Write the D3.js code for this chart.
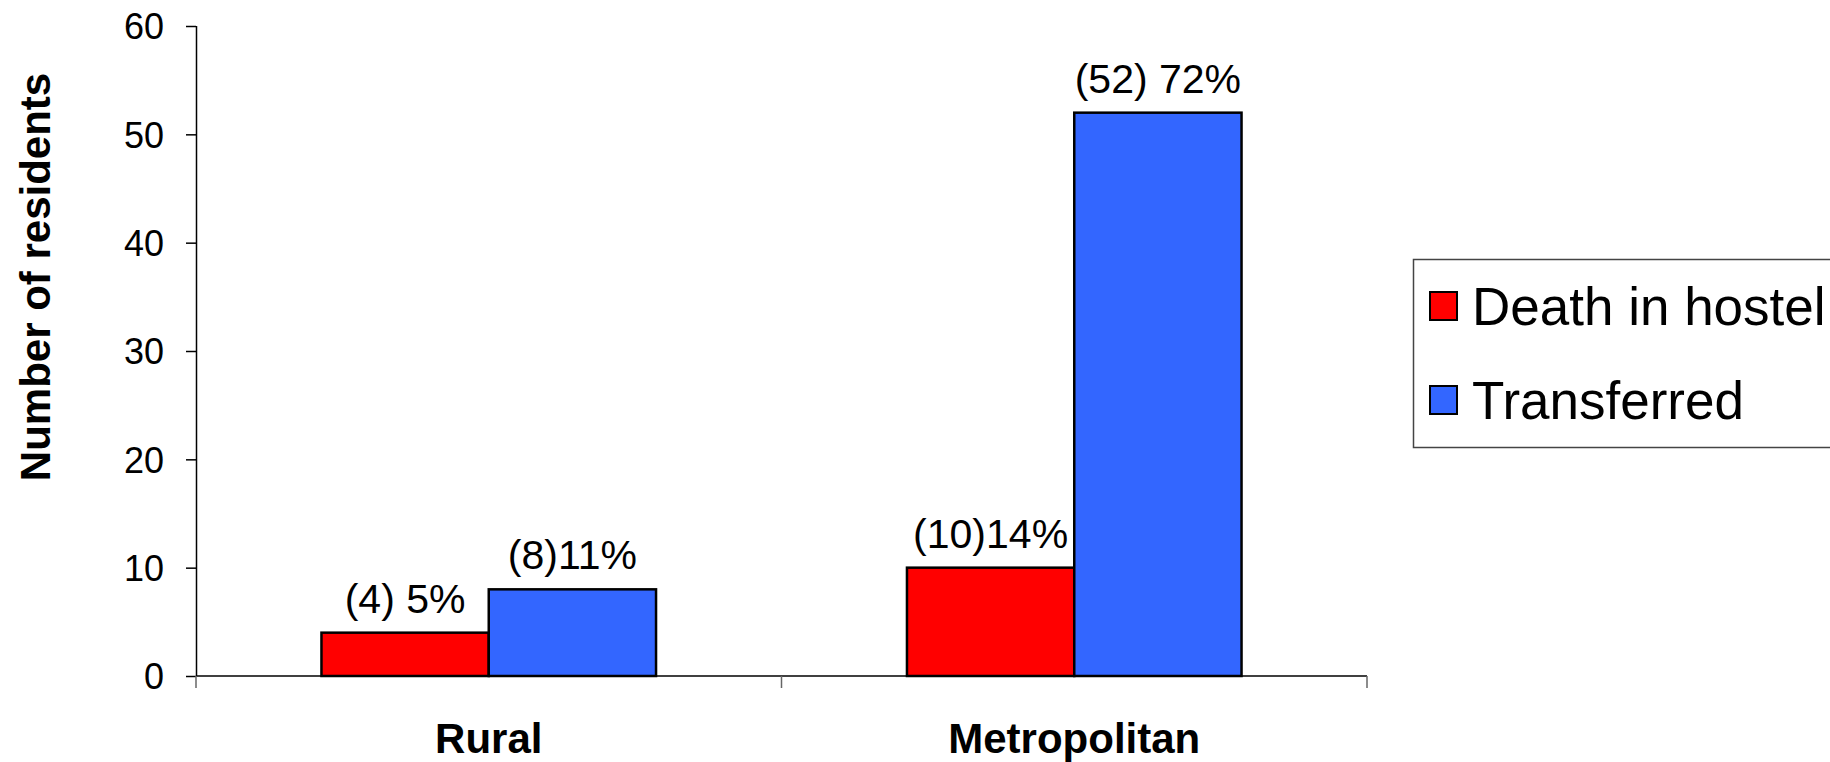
<!DOCTYPE html>
<html>
<head>
<meta charset="utf-8">
<script src="https://cdn.jsdelivr.net/npm/d3@7"></script>
<style>
  html, body { margin: 0; padding: 0; background: #fff; }
  svg { display: block; font-family: "Liberation Sans", Arial, sans-serif; }
</style>
</head>
<body>
<svg id="chart" width="1830" height="762"></svg>
<script>
// Residents by location: deaths in hostel vs. transfers
const categories = ["Rural", "Metropolitan"];
const seriesNames = ["Death in hostel", "Transferred"];
const deathInHostel = [4, 10];
const transferred = [8, 52];
const deathLabels = ["(4) 5%", "(10)14%"];
const transferredLabels = ["(8)11%", "(52) 72%"];
const yTicks = [0, 10, 20, 30, 40, 50, 60];
const seriesColors = ["#FF0000", "#3366FF"];

const seriesValues = [deathInHostel, transferred];
const seriesLabels = [deathLabels, transferredLabels];

const rows = categories.map((c, i) => ({
  category: c,
  bars: seriesNames.map((s, j) => ({
    series: s,
    value: seriesValues[j][i],
    label: seriesLabels[j][i],
    color: seriesColors[j]
  }))
}));

const svg = d3.select("#chart");
const plot = { left: 196, right: 1367, top: 26, bottom: 676 };

const x = d3.scaleBand()
  .domain(categories)
  .range([plot.left, plot.right])
  .padding(0);

const x1 = d3.scaleBand()
  .domain(seriesNames)
  .range([0, x.bandwidth()])
  .paddingInner(0)
  .paddingOuter(0.75);

const y = d3.scaleLinear()
  .domain([0, 60])
  .range([plot.bottom, plot.top]);

// Y axis
const yAxis = svg.append("g")
  .attr("transform", `translate(${plot.left},0)`)
  .call(d3.axisLeft(y).tickValues(yTicks).tickSize(10).tickPadding(22));
yAxis.select(".domain").attr("stroke", "#000").attr("stroke-width", 1.5)
  .attr("d", `M0.5,${plot.top}V${plot.bottom}`);
yAxis.selectAll(".tick line").attr("stroke", "#000").attr("stroke-width", 1.5);
yAxis.selectAll(".tick text")
  .attr("font-size", 36)
  .attr("fill", "#000")
  .attr("font-family", "Liberation Sans, Arial, sans-serif")
  .attr("dy", "0.36em");

// Bars
const groups = svg.append("g").selectAll("g")
  .data(rows)
  .join("g")
  .attr("transform", d => `translate(${x(d.category)},0)`);

groups.selectAll("rect")
  .data(d => d.bars)
  .join("rect")
  .attr("x", d => x1(d.series))
  .attr("y", d => y(d.value))
  .attr("width", x1.bandwidth())
  .attr("height", d => y(0) - y(d.value))
  .attr("fill", d => d.color)
  .attr("stroke", "#000")
  .attr("stroke-width", 2.5);

groups.selectAll("text")
  .data(d => d.bars)
  .join("text")
  .attr("x", d => x1(d.series) + x1.bandwidth() / 2)
  .attr("y", d => y(d.value) - 20)
  .attr("text-anchor", "middle")
  .attr("font-size", 41)
  .attr("fill", "#000")
  .text(d => d.label);

// X axis with ticks at category boundaries
const xAxisG = svg.append("g");
xAxisG.append("line")
  .attr("x1", plot.left).attr("x2", plot.right)
  .attr("y1", y(0)).attr("y2", y(0))
  .attr("stroke", "#000").attr("stroke-width", 1.5);
const boundaries = categories.map(c => x(c)).concat([x(categories[categories.length - 1]) + x.bandwidth()]);
xAxisG.selectAll("line.tick")
  .data(boundaries)
  .join("line")
  .attr("class", "tick")
  .attr("x1", d => d).attr("x2", d => d)
  .attr("y1", y(0)).attr("y2", y(0) + 12)
  .attr("stroke", "#666").attr("stroke-width", 1.5);
xAxisG.selectAll("text")
  .data(categories)
  .join("text")
  .attr("x", d => x(d) + x.bandwidth() / 2)
  .attr("y", 753)
  .attr("text-anchor", "middle")
  .attr("font-size", 42)
  .attr("font-weight", "bold")
  .attr("fill", "#000")
  .text(d => d);

// Y axis title
svg.append("text")
  .attr("transform", `translate(50,277) rotate(-90)`)
  .attr("text-anchor", "middle")
  .attr("font-size", 42)
  .attr("font-weight", "bold")
  .attr("fill", "#000")
  .text("Number of residents");

// Legend
const legend = svg.append("g");
legend.append("rect")
  .attr("x", 1413.5).attr("y", 259.5)
  .attr("width", 430).attr("height", 188)
  .attr("fill", "#fff")
  .attr("stroke", "#444").attr("stroke-width", 1.5);
const legendItems = legend.selectAll("g")
  .data(seriesNames.map((s, j) => ({ name: s, color: seriesColors[j] })))
  .join("g")
  .attr("transform", (d, i) => `translate(0,${i * 94})`);
legendItems.append("rect")
  .attr("x", 1430).attr("y", 292)
  .attr("width", 27).attr("height", 28)
  .attr("fill", d => d.color)
  .attr("stroke", "#000").attr("stroke-width", 2);
legendItems.append("text")
  .attr("x", 1472).attr("y", 325)
  .attr("font-size", 53)
  .attr("fill", "#000")
  .text(d => d.name);
</script>
</body>
</html>
